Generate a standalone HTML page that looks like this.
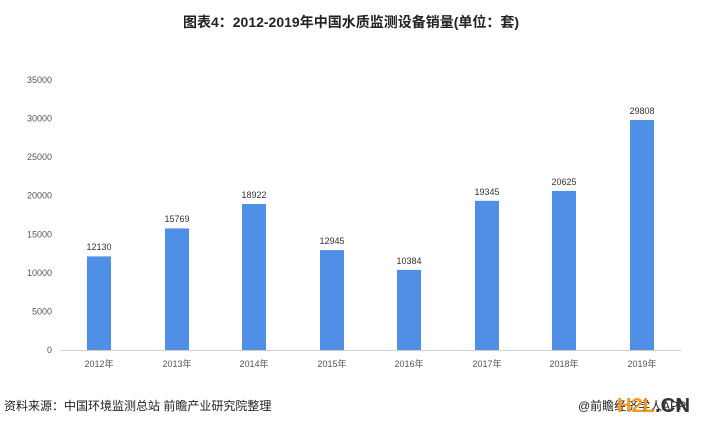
<!DOCTYPE html>
<html><head><meta charset="utf-8"><style>
html,body{margin:0;padding:0;background:#fff;}
svg{display:block;font-family:"Liberation Sans","Noto Sans CJK SC",sans-serif;}
</style></head><body>
<svg width="703" height="424" viewBox="0 0 703 424" xmlns="http://www.w3.org/2000/svg">
<rect width="703" height="424" fill="#fff"/>
<text x="351" y="27" text-anchor="middle" font-size="14" font-weight="bold" fill="#222">图表4：2012-2019年中国水质监测设备销量(单位：套)</text>
<g font-size="9" fill="#555" text-anchor="end">
<text x="52" y="353">0</text>
<text x="52" y="314.4">5000</text>
<text x="52" y="275.9">10000</text>
<text x="52" y="237.3">15000</text>
<text x="52" y="198.7">20000</text>
<text x="52" y="160.1">25000</text>
<text x="52" y="121.6">30000</text>
<text x="52" y="83">35000</text>
</g>
<line x1="60" y1="350.5" x2="681" y2="350.5" stroke="#d0d0d0" stroke-width="1"/>
<g fill="#4f8fe6">
<rect x="87" y="256.4" width="24" height="93.6"/>
<rect x="165" y="228.4" width="24" height="121.6"/>
<rect x="242" y="204" width="24" height="146"/>
<rect x="320" y="250.1" width="24" height="99.9"/>
<rect x="397" y="269.9" width="24" height="80.1"/>
<rect x="475" y="200.8" width="24" height="149.2"/>
<rect x="552" y="190.9" width="24" height="159.1"/>
<rect x="630" y="120" width="24" height="230"/>
</g>
<g font-size="9" fill="#333" text-anchor="middle">
<text x="99" y="250">12130</text>
<text x="177" y="222">15769</text>
<text x="254" y="198">18922</text>
<text x="332" y="244">12945</text>
<text x="409" y="264">10384</text>
<text x="487" y="195">19345</text>
<text x="564" y="185">20625</text>
<text x="642" y="114">29808</text>
</g>
<g font-size="9" fill="#555" text-anchor="middle">
<text x="99" y="367">2012年</text>
<text x="177" y="367">2013年</text>
<text x="254" y="367">2014年</text>
<text x="332" y="367">2015年</text>
<text x="409" y="367">2016年</text>
<text x="487" y="367">2017年</text>
<text x="564" y="367">2018年</text>
<text x="642" y="367">2019年</text>
</g>
<text x="4" y="410" font-size="12" fill="#222">资料来源：中国环境监测总站 前瞻产业研究院整理</text>
<text x="578" y="410" font-size="12" fill="#222">@前瞻经济学人APP</text>
<text x="617" y="412" font-size="20" font-weight="bold" fill="#f39a1e" textLength="38" lengthAdjust="spacingAndGlyphs">H2L</text>
<text x="655" y="412" font-size="20" font-weight="bold" fill="#333" textLength="35" lengthAdjust="spacingAndGlyphs">.CN</text>
</svg>
</body></html>
